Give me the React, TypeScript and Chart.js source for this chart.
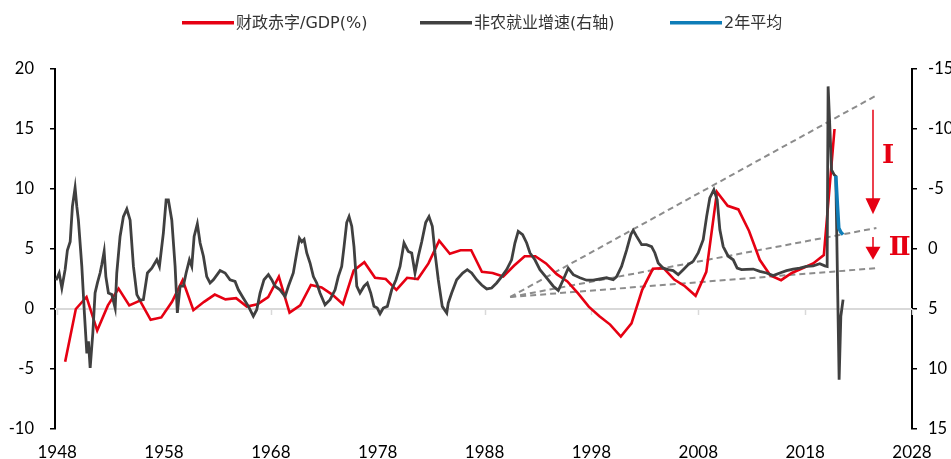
import React, { useEffect, useRef } from 'react';
import { Chart, registerables } from 'chart.js';

Chart.register(...registerables);

// ---------------- Data ----------------
// Federal deficit as % of GDP, by fiscal year (plotted at fiscal-year end, Sept 30)
const fiscalYears = [
  1948, 1949, 1950, 1951, 1952, 1953, 1954, 1955, 1956, 1957,
  1958, 1959, 1960, 1961, 1962, 1963, 1964, 1965, 1966, 1967,
  1968, 1969, 1970, 1971, 1972, 1973, 1974, 1975, 1976, 1977,
  1978, 1979, 1980, 1981, 1982, 1983, 1984, 1985, 1986, 1987,
  1988, 1989, 1990, 1991, 1992, 1993, 1994, 1995, 1996, 1997,
  1998, 1999, 2000, 2001, 2002, 2003, 2004, 2005, 2006, 2007,
  2008, 2009, 2010, 2011, 2012, 2013, 2014, 2015, 2016, 2017,
  2018, 2019, 2020,
];
const deficitPctGdp = [
  -4.4, 0.0, 1.0, -1.8, 0.3, 1.7, 0.3, 0.7, -0.9, -0.7,
  0.6, 2.4, -0.1, 0.6, 1.2, 0.8, 0.9, 0.2, 0.4, 1.0,
  2.7, -0.3, 0.3, 2.0, 1.8, 1.2, 0.4, 3.2, 3.9, 2.6,
  2.5, 1.6, 2.6, 2.5, 3.8, 5.7, 4.6, 4.9, 4.9, 3.1,
  3.0, 2.7, 3.6, 4.4, 4.4, 3.8, 2.9, 2.3, 1.3, 0.2,
  -0.6, -1.3, -2.3, -1.2, 1.6, 3.35, 3.4, 2.45, 1.9, 1.1,
  3.1, 9.75, 8.6, 8.3, 6.5, 4.1, 2.8, 2.4, 3.0, 3.4,
  3.8, 4.5, 15.0,
];
const FISCAL_YEAR_END = 0.75;

// Nonfarm payroll growth, YoY % (right axis, reversed)
const payrollDates = [
  1947.9, 1948.19, 1948.44, 1948.75, 1948.96, 1949.22, 1949.43, 1949.68, 1949.84, 1949.99,
  1950.31, 1950.55, 1950.78, 1950.93, 1951.09, 1951.34, 1951.55, 1951.77, 1952.02, 1952.18,
  1952.4, 1952.56, 1952.8, 1953.12, 1953.43, 1953.58, 1953.89, 1954.2, 1954.52, 1954.83,
  1955.14, 1955.46, 1955.76, 1956.07, 1956.45, 1956.86, 1957.33, 1957.57, 1957.94, 1958.2,
  1958.41, 1958.73, 1959.04, 1959.25, 1959.51, 1959.81, 1960.07, 1960.38, 1960.6, 1960.82,
  1961.12, 1961.38, 1961.69, 1962.0, 1962.31, 1962.62, 1963.25, 1963.72, 1964.18, 1964.65,
  1964.96, 1965.43, 1965.9, 1966.36, 1966.68, 1966.99, 1967.36, 1967.77, 1968.08, 1968.39,
  1968.86, 1969.33, 1969.64, 1970.1, 1970.42, 1970.67, 1970.89, 1971.11, 1971.36, 1971.67,
  1971.98, 1972.29, 1972.6, 1973.07, 1973.54, 1974.01, 1974.31, 1974.63, 1974.85, 1975.1,
  1975.32, 1975.57, 1975.78, 1976.04, 1976.34, 1976.72, 1977.03, 1977.35, 1977.65, 1977.96,
  1978.22, 1978.52, 1978.9, 1979.31, 1979.71, 1980.09, 1980.46, 1980.86, 1981.18, 1981.49,
  1981.8, 1982.12, 1982.49, 1982.8, 1983.11, 1983.36, 1983.67, 1984.04, 1984.46, 1984.6,
  1984.92, 1985.39, 1985.95, 1986.38, 1986.79, 1987.26, 1987.73, 1988.2, 1988.66, 1989.13,
  1989.6, 1990.07, 1990.53, 1990.84, 1991.15, 1991.56, 1991.94, 1992.25, 1992.71, 1993.18,
  1993.81, 1994.43, 1994.9, 1995.36, 1995.83, 1996.3, 1996.92, 1997.55, 1998.17, 1998.8,
  1999.42, 2000.04, 2000.36, 2000.82, 2001.29, 2001.69, 2001.91, 2002.23, 2002.7, 2003.16,
  2003.63, 2003.94, 2004.25, 2004.72, 2005.19, 2005.65, 2006.12, 2006.59, 2007.06, 2007.52,
  2007.99, 2008.46, 2008.78, 2009.08, 2009.46, 2009.77, 2010.02, 2010.33, 2010.8, 2011.27,
  2011.64, 2012.05, 2012.52, 2013.14, 2013.76, 2014.39, 2015.01, 2015.63, 2016.26, 2016.88,
  2017.5, 2018.13, 2018.75, 2019.37, 2019.84, 2020.06, 2020.15, 2020.31, 2020.47, 2020.71,
  2020.87, 2021.18, 2021.34, 2021.55,
];
const payrollGrowth = [
  2.6, 2.0, 3.25, 1.7, 0.1, -0.6, -3.55, -5.1, -3.55, -2.4,
  1.45, 5.33, 8.7, 7.7, 9.9, 7.0, 3.67, 2.83, 2.0, 1.3,
  0.2, 2.3, 3.67, 3.8, 4.92, 2.0, -1.05, -2.7, -3.33, -2.4,
  1.45, 3.8, 4.28, 4.22, 2.0, 1.6, 0.9, 1.45, -1.33, -4.1,
  -4.1, -2.4, 1.45, 5.33, 3.1, 3.1, 2.0, 0.9, 1.45, -1.05,
  -2.1, -0.5, 0.6, 2.3, 2.83, 2.56, 1.8, 2.0, 2.56, 2.7,
  3.4, 4.1, 4.78, 5.6, 5.06, 3.67, 2.56, 2.14, 2.56, 3.1,
  3.4, 3.95, 3.1, 2.0, 0.33, -0.9, -0.6, -0.8, 0.33, 1.17,
  2.3, 2.83, 3.67, 4.64, 4.22, 3.4, 2.3, 1.45, -0.2, -2.2,
  -2.7, -1.9, -0.2, 3.1, 3.67, 3.1, 2.83, 3.67, 4.78, 4.92,
  5.4, 4.92, 4.78, 3.4, 2.56, 1.45, -0.5, 0.2, 0.33, 2.0,
  0.6, -0.6, -2.2, -2.7, -1.9, 0.33, 2.56, 4.78, 5.33, 4.5,
  3.67, 2.56, 2.0, 1.72, 2.0, 2.56, 3.0, 3.33, 3.25, 2.83,
  2.3, 1.72, 0.9, -0.5, -1.47, -1.2, -0.5, 0.33, 0.9, 1.72,
  2.4, 3.1, 3.45, 2.56, 1.6, 2.14, 2.4, 2.6, 2.6, 2.5,
  2.4, 2.56, 2.3, 1.45, 0.1, -1.2, -1.55, -1.05, -0.36, -0.36,
  -0.2, 0.33, 1.17, 1.6, 1.72, 1.8, 2.14, 1.72, 1.3, 1.03,
  0.33, -0.78, -2.7, -4.25, -4.94, -4.1, -1.6, -0.2, 0.6, 0.9,
  1.6, 1.72, 1.7, 1.67, 1.87, 2.0, 2.22, 2.0, 1.8, 1.67,
  1.6, 1.45, 1.4, 1.22, 1.4, 1.45, -13.55, -10.2, -6.6, -6.2,
  -6.05, 10.9, 5.6, 4.22,
];

// Two-year average payroll growth (right axis)
const avg2yDates = [2020.87, 2021.03, 2021.15, 2021.34, 2021.55];
const avg2yGrowth = [-6.1, -3.55, -1.75, -1.4, -1.2];

// Axis ticks
const xTickYears = [1948, 1958, 1968, 1978, 1988, 1998, 2008, 2018, 2028];
const leftTicks = [-10, -5, 0, 5, 10, 15, 20];
const rightTicks = [-15, -10, -5, 0, 5, 10, 15];

// Trend lines (left axis): common start, three ends
const trendStartYear = 1990.4;
const trendStartValue = 1.0;
const trendEndYear = 2024.67;
const trendEndValues = [17.8, 6.75, 3.4];

// Arrows & labels (left axis)
const arrowYear = 2024.35;
const arrowFrom = [16.6, 6.0];
const arrowTo = [7.9, 4.1];
const arrowLabels = ['Ⅰ', 'Ⅱ'];
const arrowLabelYears = [2025.75, 2026.85];
const arrowLabelValues = [12.7, 5.1];

const seriesNames = ['财政赤字/GDP(%)', '非农就业增速(右轴)', '2年平均'];

// ---------------- Styles ----------------
const RED = '#E60012';
const DARK = '#404040';
const BLUE = '#0E7DB8';
const DASH = '#8C8C8C';
const ZERO = '#D9D9D9';
const X_FONT = { family: 'Lato, "Noto Sans", sans-serif', size: 17 };
const Y_FONT = { family: 'Lato, "Noto Sans", sans-serif', size: 16.5 };

const decadeTicks = (s: any) => {
  s.ticks = xTickYears.map((v) => ({ value: v }));
};

const zeroLinePlugin = {
  id: 'zeroLine',
  beforeDatasetsDraw(chart: any) {
    const ctx = chart.ctx;
    const xs = chart.scales.x;
    const y0 = Math.round(chart.scales.y.getPixelForValue(0));
    const { left, right } = chart.chartArea;
    ctx.save();
    ctx.strokeStyle = ZERO;
    ctx.lineWidth = 2;
    ctx.beginPath();
    ctx.moveTo(left, y0);
    ctx.lineTo(right, y0);
    ctx.stroke();
    ctx.lineWidth = 1.5;
    xTickYears.forEach((yr) => {
      const px = Math.round(xs.getPixelForValue(yr)) + 0.5;
      ctx.beginPath();
      ctx.moveTo(px, y0);
      ctx.lineTo(px, y0 + 6);
      ctx.stroke();
    });
    ctx.restore();
  },
};

const legendPlugin = {
  id: 'customLegend',
  afterDraw(chart: any) {
    const ctx = chart.ctx;
    const colors = [RED, DARK, BLUE];
    const starts = [182, 420, 670];
    const y = 22.7;
    ctx.save();
    ctx.font = '16px "DejaVu Sans", "Noto Sans CJK SC", sans-serif';
    ctx.textBaseline = 'middle';
    ctx.textAlign = 'left';
    seriesNames.forEach((name, i) => {
      const x0 = starts[i];
      ctx.strokeStyle = colors[i];
      ctx.lineWidth = 3.5;
      ctx.lineCap = 'butt';
      ctx.beginPath();
      ctx.moveTo(x0, y);
      ctx.lineTo(x0 + 52, y);
      ctx.stroke();
      ctx.fillStyle = '#333333';
      ctx.fillText(name, x0 + 54, y + 1);
    });
    ctx.restore();
  },
};

const arrowPlugin = {
  id: 'arrows',
  afterDatasetsDraw(chart: any) {
    const ctx = chart.ctx;
    const xs = chart.scales.x;
    const ys = chart.scales.y;
    ctx.save();
    const x = xs.getPixelForValue(arrowYear);
    arrowFrom.forEach((from, i) => {
      const y0 = ys.getPixelForValue(from);
      const y1 = ys.getPixelForValue(arrowTo[i]);
      const headH = i === 0 ? 16 : 13;
      const headW = 7.5;
      ctx.strokeStyle = RED;
      ctx.fillStyle = RED;
      ctx.lineWidth = 1.5;
      ctx.beginPath();
      ctx.moveTo(x, y0);
      ctx.lineTo(x, y1 - headH + 1);
      ctx.stroke();
      ctx.beginPath();
      ctx.moveTo(x - headW, y1 - headH);
      ctx.lineTo(x + headW, y1 - headH);
      ctx.lineTo(x, y1);
      ctx.closePath();
      ctx.fill();
      ctx.font = 'bold 26px "DejaVu Serif", "Liberation Serif", serif';
      ctx.textAlign = 'center';
      ctx.textBaseline = 'middle';
      ctx.fillText(
        arrowLabels[i],
        xs.getPixelForValue(arrowLabelYears[i]),
        ys.getPixelForValue(arrowLabelValues[i])
      );
    });
    ctx.restore();
  },
};

export default function App() {
  const ref = useRef<HTMLCanvasElement>(null);

  useEffect(() => {
    if (!ref.current) return;
    const trendSets = trendEndValues.map((end) => ({
      label: 'trend',
      data: [
        { x: trendStartYear, y: trendStartValue },
        { x: trendEndYear, y: end },
      ],
      yAxisID: 'y',
      borderColor: DASH,
      borderWidth: 2,
      borderDash: [6, 4],
      pointRadius: 0,
      order: 3,
    }));

    const chart = new Chart(ref.current, {
      type: 'line',
      data: {
        datasets: [
          {
            label: seriesNames[0],
            data: fiscalYears.map((y, i) => ({ x: y + FISCAL_YEAR_END, y: deficitPctGdp[i] })),
            yAxisID: 'y',
            borderColor: RED,
            borderWidth: 2.6,
            pointRadius: 0,
            tension: 0,
            order: 2,
          },
          {
            label: seriesNames[1],
            data: payrollDates.map((d, i) => ({ x: d, y: payrollGrowth[i] })),
            yAxisID: 'y2',
            borderColor: DARK,
            borderWidth: 2.8,
            pointRadius: 0,
            tension: 0,
            order: 1,
          },
          {
            label: seriesNames[2],
            data: avg2yDates.map((d, i) => ({ x: d, y: avg2yGrowth[i] })),
            yAxisID: 'y2',
            borderColor: BLUE,
            borderWidth: 3.5,
            pointRadius: 0,
            tension: 0,
            order: 0,
          },
          ...trendSets,
        ] as any,
      },
      options: {
        animation: false,
        responsive: false,
        devicePixelRatio: 1,
        layout: { padding: { top: 69, left: 0, right: 0, bottom: 0 } },
        plugins: {
          legend: { display: false },
          tooltip: { enabled: false },
        },
        scales: {
          x: {
            type: 'linear',
            position: 'bottom',
            min: 1947.8,
            max: 2028,
            border: { display: false },
            grid: { display: false, drawTicks: false },
            afterBuildTicks: decadeTicks,
            afterFit: (s: any) => {
              s.height = 30;
            },
            ticks: {
              autoSkip: false,
              maxRotation: 0,
              padding: 13,
              color: '#000',
              font: X_FONT,
              callback: (v: any) => String(v),
            },
          },
          y: {
            type: 'linear',
            position: 'left',
            min: -10,
            max: 20,
            afterBuildTicks: (s: any) => {
              s.ticks = leftTicks.map((v) => ({ value: v }));
            },
            afterFit: (s: any) => {
              s.width = 55;
            },
            border: { color: '#000', width: 2 },
            grid: { drawOnChartArea: false, drawTicks: true, tickLength: 5, color: '#000', lineWidth: 1.5 },
            ticks: { padding: 16, color: '#000', font: Y_FONT },
          },
          y2: {
            type: 'linear',
            position: 'right',
            reverse: true,
            min: -15,
            max: 15,
            afterBuildTicks: (s: any) => {
              s.ticks = rightTicks.map((v) => ({ value: v }));
            },
            afterFit: (s: any) => {
              s.width = 39;
            },
            border: { color: '#000', width: 2 },
            grid: { drawOnChartArea: false, drawTicks: true, tickLength: 5, color: '#000', lineWidth: 1.5 },
            ticks: { padding: 11, color: '#000', font: Y_FONT },
          },
        },
      } as any,
      plugins: [zeroLinePlugin, legendPlugin, arrowPlugin],
    });
    return () => chart.destroy();
  }, []);

  return (
    <div style={{ position: 'fixed', left: 0, top: 0, width: 951, height: 459, background: '#fff' }}>
      <canvas ref={ref} width={951} height={459} style={{ width: 951, height: 459, display: 'block' }} />
    </div>
  );
}
